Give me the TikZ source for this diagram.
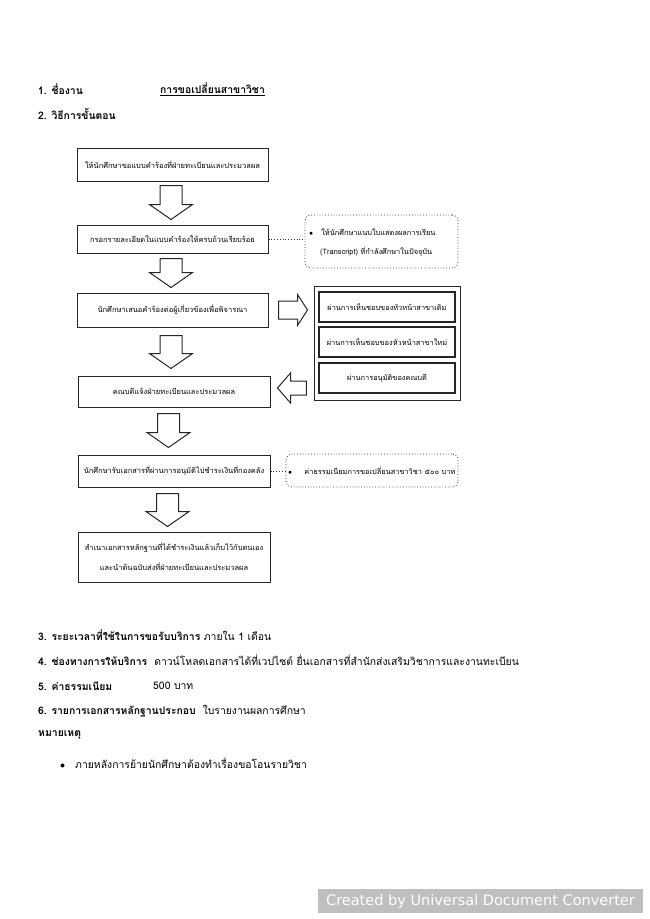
\documentclass[tikz,border=0pt]{standalone}
\usepackage{fontspec}
\setmainfont[Script=Thai]{Loma}
\newfontfamily\wmfont{DejaVu Sans}
\usetikzlibrary{calc}
\tikzset{
  procbox/.style={draw=black!85, line width=1pt, inner sep=0pt, align=center,
    font=\fontsize{7.5}{20}\selectfont},
  innerbox/.style={draw=black!85, line width=1.2pt, inner sep=0pt, align=center,
    minimum width=136pt, minimum height=30pt, font=\fontsize{7.4}{10}\selectfont},
  notebox/.style={draw=black!80, line width=0.8pt, dotted, rounded corners=6pt, inner sep=0pt},
  notetext/.style={align=left, inner sep=0pt, font=\fontsize{7.4}{19}\selectfont},
  dotline/.style={draw=black!80, line width=0.8pt, dotted},
  blockarrow/.style={draw=black!85, line width=1pt, fill=white, line join=miter},
  blockdown/.style={blockarrow, to path={let \p1=(\tikztostart),\p2=(\tikztotarget) in
    (\x1-11pt,\y1) -- (\x1+11pt,\y1) -- (\x1+11pt,\y2+15pt) -- (\x1+21.5pt,\y2+15pt)
    -- (\x1,\y2) -- (\x1-21.5pt,\y2+15pt) -- (\x1-11pt,\y2+15pt) -- cycle}},
  blockright/.style={blockarrow, to path={let \p1=(\tikztostart),\p2=(\tikztotarget) in
    (\x1,\y1+9pt) -- (\x2-10pt,\y1+9pt) -- (\x2-10pt,\y1+15.5pt) -- (\x2,\y1)
    -- (\x2-10pt,\y1-15.5pt) -- (\x2-10pt,\y1-9pt) -- (\x1,\y1-9pt) -- cycle}},
  blockleft/.style={blockarrow, to path={let \p1=(\tikztostart),\p2=(\tikztotarget) in
    (\x1,\y1+7pt) -- (\x2+13pt,\y1+7pt) -- (\x2+13pt,\y1+15pt) -- (\x2,\y1)
    -- (\x2+13pt,\y1-15pt) -- (\x2+13pt,\y1-7pt) -- (\x1,\y1-7pt) -- cycle}},
  bodytext/.style={anchor=west, inner sep=0pt, font=\fontsize{10.4}{12}\selectfont},
}
\begin{document}
\begin{tikzpicture}[x=1pt,y=-1pt]
\useasboundingbox[fill=white] (0,0) rectangle (650,919);

% headings
\node[bodytext] (h1) at (38,89) {\textbf{1. ชื่องาน}};
\node[bodytext] (h1b) at (160,89) {\textbf{\underline{การขอเปลี่ยนสาขาวิชา}}};
\node[bodytext] (h2) at (38,114) {\textbf{2. วิธีการขั้นตอน}};

% process boxes
\node[procbox, minimum width=191pt, minimum height=33pt] (b1) at (172.5,164.5)
  {ให้นักศึกษาขอแบบคำร้องที่ฝ่ายทะเบียนและประมวลผล};
\node[procbox, minimum width=191pt, minimum height=28pt] (b2) at (172.5,239)
  {กรอกรายละเอียดในแบบคำร้องให้ครบถ้วนเรียบร้อย};
\node[procbox, minimum width=191pt, minimum height=34pt] (b3) at (172.5,310)
  {นักศึกษาเสนอคำร้องต่อผู้เกี่ยวข้องเพื่อพิจารณา};
\node[procbox, minimum width=192pt, minimum height=31pt] (b4) at (174,391.5)
  {คณบดีแจ้งฝ่ายทะเบียนและประมวลผล};
\node[procbox, minimum width=192pt, minimum height=32pt] (b5) at (174,471)
  {นักศึกษารับเอกสารที่ผ่านการอนุมัติไปชำระเงินที่กองคลัง};
\node[procbox, minimum width=192pt, minimum height=50pt] (b6) at (174,557)
  {สำเนาเอกสารหลักฐานที่ได้ชำระเงินแล้วเก็บไว้กับตนเอง\\และนำต้นฉบับส่งที่ฝ่ายทะเบียนและประมวลผล};

% notes
\node[notebox, minimum width=153pt, minimum height=53pt] (n1) at (381.5,241.5) {};
\node[notetext, anchor=west] (n1t) at (309,242.5)
  {$\bullet$\hspace{8pt}ให้นักศึกษาแนบใบแสดงผลการเรียน\\\hspace*{11pt}(Transcript) ที่กำลังศึกษาในปัจจุบัน};
\node[notebox, minimum width=172pt, minimum height=33pt] (n2) at (372,470.5) {};
\node[notetext, anchor=west] (n2t) at (288,470.5)
  {$\bullet$\hspace{12pt}ค่าธรรมเนียมการขอเปลี่ยนสาขาวิชา ๕๐๐ บาท};

% approval group
\node[draw=black!85, line width=1pt, minimum width=146pt, minimum height=114pt, inner sep=0pt] (grp) at (387,343) {};
\node[innerbox] (in1) at (387,307) {ผ่านการเห็นชอบของหัวหน้าสาขาเดิม};
\node[innerbox] (in2) at (387,342) {ผ่านการเห็นชอบของหัวหน้าสาขาใหม่};
\node[innerbox] (in3) at (387,378) {ผ่านการอนุมัติของคณบดี};

% connectors
\draw[dotline] (b2.east) -- (b2.east -| n1.west);
\draw[dotline] (b5.east) -- (b5.east -| n2.west);

\draw[blockdown] ([xshift=-1.5pt,yshift=-4pt]b1.south) to ([xshift=-1.5pt,yshift=5pt]b2.north);
\draw[blockdown] ([xshift=-1.5pt,yshift=-5pt]b2.south) to ([xshift=-1.5pt,yshift=5pt]b3.north);
\draw[blockdown] ([xshift=-1.5pt,yshift=-8pt]b3.south) to ([xshift=-3pt,yshift=7pt]b4.north);
\draw[blockdown] ([xshift=-5.5pt,yshift=-6pt]b4.south) to ([xshift=-5.5pt,yshift=7pt]b5.north);
\draw[blockdown] ([xshift=-6.5pt,yshift=-6pt]b5.south) to ([xshift=-6.5pt,yshift=5pt]b6.north);
\draw[blockright] ([xshift=10pt]b3.east) to ([xshift=-6pt]grp.west);
\draw[blockleft] ([xshift=-12pt,yshift=-10pt]in3.west) to ([xshift=7pt]b4.east);

% lower text
\node[bodytext] (l3) at (38,635) {\textbf{3. ระยะเวลาที่ใช้ในการขอรับบริการ} ภายใน 1 เดือน};
\node[bodytext] (l4) at (38,660) {\textbf{4. ช่องทางการให้บริการ}\ \ ดาวน์โหลดเอกสารได้ที่เวปไซต์ ยื่นเอกสารที่สำนักส่งเสริมวิชาการและงานทะเบียน};
\node[bodytext] (l5) at (38,686) {\textbf{5. ค่าธรรมเนียม}};
\node[bodytext] (l5b) at (153,686) {500 บาท};
\node[bodytext] (l6) at (38,711) {\textbf{6. รายการเอกสารหลักฐานประกอบ}\ \ ใบรายงานผลการศึกษา};
\node[bodytext] (l7) at (38,735) {\textbf{หมายเหตุ}};
\node[bodytext] (l8) at (60,763) {$\bullet$\hspace{10pt}ภายหลังการย้ายนักศึกษาต้องทำเรื่องขอโอนรายวิชา};

% watermark
\node[fill=black!25, minimum width=325pt, minimum height=24pt, inner sep=0pt,
  text=white, font=\wmfont\fontsize{14.5}{16}\selectfont] (wm) at (480.5,901)
  {Created by Universal Document Converter};
\end{tikzpicture}
\end{document}
